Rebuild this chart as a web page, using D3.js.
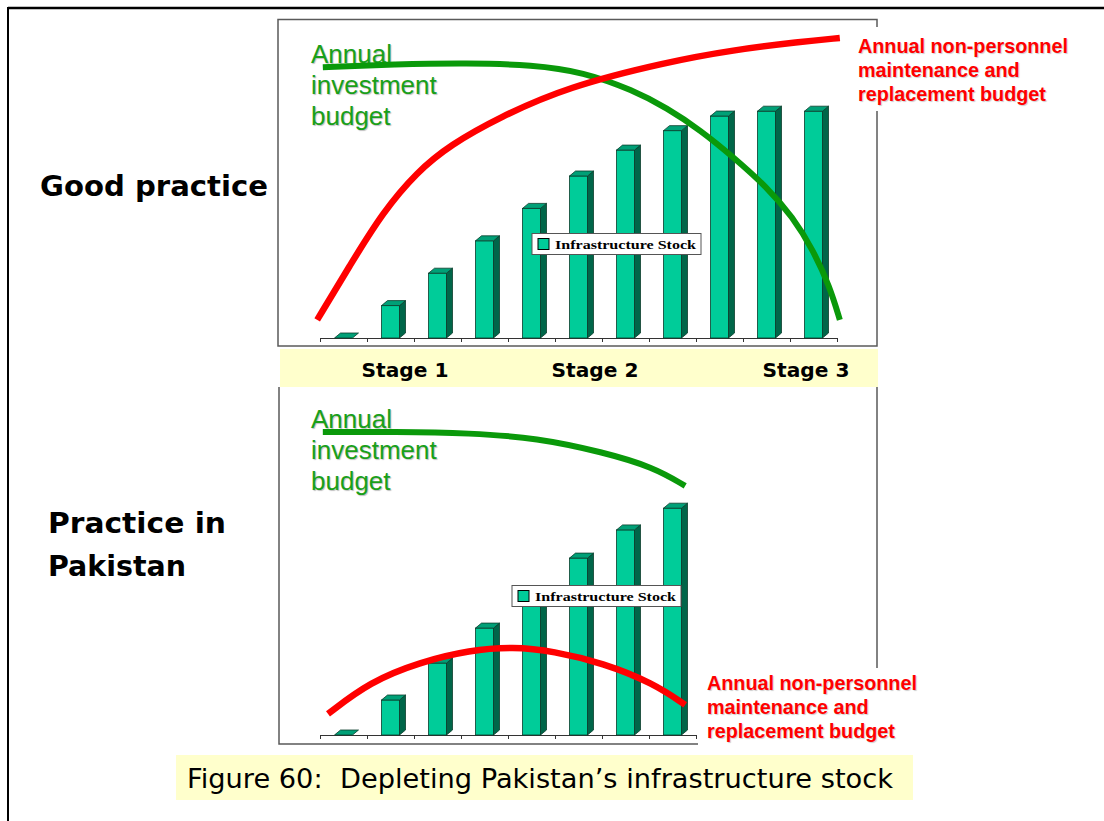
<!DOCTYPE html>
<html>
<head>
<meta charset="utf-8">
<script src="https://cdn.jsdelivr.net/npm/d3@7"></script>
<style>
  body { margin: 0; background: #fff; }
  svg { display: block; }
</style>
</head>
<body>
<svg id="chart" width="1104" height="821"></svg>
<script>
// infrastructure stock, one bar per period
var goodStock = [0, 1, 2, 3, 4, 5, 5.8, 6.4, 6.85, 7.0, 7.0];
var pakStock = [0, 1.08, 2.22, 3.3, 4.32, 5.46, 6.33, 7.0];

// curves as [period, value] pairs
var goodInvest = [[0.06, 8.36], [1.6, 8.45], [3.13, 8.49], [4.53, 8.43], [5.6, 8.21], [6.66, 7.65], [7.38, 7.1],
  [8.09, 6.42], [8.79, 5.59], [9.51, 4.66], [10.06, 3.73], [10.49, 2.72], [10.85, 1.57], [11.06, 0.56]];
var goodMaint = [[-0.06, 0.56], [0.64, 2.25], [1.34, 3.89], [2.06, 5.12], [2.77, 5.96], [3.83, 6.82],
  [5.26, 7.75], [7.38, 8.52], [8.79, 8.89], [10.21, 9.14], [11.06, 9.26]];
var pakInvest = [[0.06, 9.35], [1.6, 9.36], [3.19, 9.32], [4.62, 9.17], [6.02, 8.73], [7.09, 8.27], [7.77, 7.69]];
var pakMaint = [[0.17, 0.65], [1.06, 1.64], [2.13, 2.25], [3.19, 2.62], [4.11, 2.72], [4.96, 2.59],
  [6.02, 2.22], [7.09, 1.6], [7.77, 0.93]];

var stageLabels = ["Stage 1", "Stage 2", "Stage 3"];
var legendLabel = "Infrastructure Stock";
var investLabel = ["Annual", "investment", "budget"];
var maintLabel = ["Annual non-personnel", "maintenance and", "replacement budget"];
var caption = "Figure 60:  Depleting Pakistan\u2019s infrastructure stock";

var svg = d3.select("#chart");
var comic = "'Comic Sans MS', 'DejaVu Sans', sans-serif";
var frameCol = "#5a5a5a";

// outer page border
svg.append("line").attr("x1", 8).attr("y1", 8).attr("x2", 1104).attr("y2", 8)
  .attr("stroke", "#000").attr("stroke-width", 2.5);
svg.append("line").attr("x1", 8).attr("y1", 7).attr("x2", 8).attr("y2", 821)
  .attr("stroke", "#000").attr("stroke-width", 2);

function drawPanel(opts) {
  var g = svg.append("g");
  var n = opts.stock.length;
  var step = 47;
  var x = d3.scaleBand().domain(d3.range(n)).range([320, 320 + step * n]).padding(0);
  var xl = d3.scaleLinear().domain([0, n]).range([320, 320 + step * n]);
  var y = d3.scaleLinear().domain([0, 10]).range([opts.base, opts.base - 324]);
  var bw = 18, dx = 6, dy = 5;
  var base = opts.base;

  // axis with ticks on category boundaries
  g.append("g")
    .attr("transform", "translate(0," + base + ")")
    .call(d3.axisBottom(xl).tickValues(d3.range(n + 1)).tickSize(4).tickSizeOuter(0).tickFormat(""))
    .call(function(a) {
      a.selectAll("path, line").attr("stroke", "#333").attr("stroke-width", 1);
    });

  var rows = opts.stock.map(function(v, i) { return { v: v, i: i }; });
  var left = function(d) { return x(d.i) + (x.bandwidth() - bw) / 2; };

  var bars = g.selectAll("g.bar").data(rows).enter().append("g").attr("class", "bar");
  var tall = bars.filter(function(d) { return d.v > 0; });

  tall.append("rect")
    .attr("x", left)
    .attr("y", function(d) { return y(d.v); })
    .attr("width", bw)
    .attr("height", function(d) { return base - y(d.v); })
    .attr("fill", "#00cc99").attr("stroke", "#0b3d2c").attr("stroke-width", 0.8);

  tall.append("path")
    .attr("d", function(d) {
      var l = left(d) + bw, t = y(d.v);
      return "M" + l + "," + t + "L" + (l + dx) + "," + (t - dy) + "L" + (l + dx) + "," + (base - dy) +
        "L" + l + "," + base + "Z";
    })
    .attr("fill", "#006649").attr("stroke", "#0b3d2c").attr("stroke-width", 0.8);

  bars.append("path")
    .attr("d", function(d) {
      var l = left(d), t = y(d.v);
      return "M" + l + "," + t + "L" + (l + dx) + "," + (t - dy) + "L" + (l + bw + dx) + "," + (t - dy) +
        "L" + (l + bw) + "," + t + "Z";
    })
    .attr("fill", "#00a077").attr("stroke", "#0b3d2c").attr("stroke-width", 0.8);

  // legend box
  var lg = g.append("g").attr("transform", "translate(" + opts.legend[0] + "," + opts.legend[1] + ")");
  lg.append("rect").attr("width", 169).attr("height", 21).attr("fill", "#fff")
    .attr("stroke", "#555").attr("stroke-width", 1);
  lg.append("rect").attr("x", 6).attr("y", 5).attr("width", 11).attr("height", 11)
    .attr("fill", "#00cc99").attr("stroke", "#000").attr("stroke-width", 1);
  lg.append("text").attr("x", 23).attr("y", 15.5)
    .attr("font-family", "'Liberation Serif', 'Times New Roman', serif")
    .attr("font-weight", "bold").attr("font-size", 13.5)
    .attr("textLength", 141).attr("lengthAdjust", "spacingAndGlyphs")
    .text(legendLabel);

  // green label, under the curve
  g.selectAll("text.inv").data(investLabel).enter().append("text")
    .attr("class", "inv")
    .attr("x", 311)
    .attr("y", function(d, i) { return opts.invY + i * 31; })
    .attr("font-family", "'Liberation Sans', Arial, sans-serif")
    .attr("font-size", 26)
    .attr("fill", "#19a019")
    .style("text-shadow", "1px 1px 1px rgba(0,0,0,0.25)")
    .text(function(d) { return d; });

  // smooth freehand-looking curves
  var line = d3.line()
    .x(function(d) { return xl(d[0]); })
    .y(function(d) { return y(d[1]); })
    .curve(d3.curveBasis);

  g.append("path").datum(opts.invest).attr("d", line)
    .attr("fill", "none").attr("stroke", "#0a990a").attr("stroke-width", 6);
  g.append("path").datum(opts.maint).attr("d", line)
    .attr("fill", "none").attr("stroke", "#ff0000").attr("stroke-width", 6.5);

  return g;
}

// top panel frame
svg.append("rect").attr("x", 278).attr("y", 19.5).attr("width", 599).attr("height", 326.5)
  .attr("fill", "none").attr("stroke", frameCol).attr("stroke-width", 1.5);

drawPanel({
  stock: goodStock, invest: goodInvest, maint: goodMaint,
  base: 338, legend: [532, 233.5], invY: 63
});

// bottom panel frame
svg.append("path").attr("d", "M279,387V744H877V387")
  .attr("fill", "none").attr("stroke", frameCol).attr("stroke-width", 1.5);

drawPanel({
  stock: pakStock, invest: pakInvest, maint: pakMaint,
  base: 735, legend: [512, 585.5], invY: 428
});

// stage band
svg.append("rect").attr("x", 280).attr("y", 349).attr("width", 598).attr("height", 38).attr("fill", "#ffffcc");
svg.selectAll("text.stage").data(stageLabels).enter().append("text")
  .attr("class", "stage")
  .attr("x", function(d, i) { return [405, 595, 806][i]; })
  .attr("y", 377)
  .attr("text-anchor", "middle")
  .attr("font-family", comic).attr("font-weight", "bold").attr("font-size", 20)
  .attr("textLength", 87).attr("lengthAdjust", "spacingAndGlyphs")
  .text(function(d) { return d; });

// red labels sit on white boxes that hide the frame
function maintText(x, y0, box) {
  svg.append("rect").attr("x", box[0]).attr("y", box[1]).attr("width", box[2]).attr("height", box[3]).attr("fill", "#fff");
  svg.selectAll(null).data(maintLabel).enter().append("text")
    .attr("x", x)
    .attr("y", function(d, i) { return y0 + i * 24; })
    .attr("font-family", "'Liberation Sans', Arial, sans-serif")
    .attr("font-weight", "bold").attr("font-size", 19.8)
    .attr("fill", "#ff0000")
    .style("text-shadow", "1px 1px 1px rgba(0,0,0,0.2)")
    .text(function(d) { return d; });
}
maintText(858, 53, [852, 27, 230, 84]);
maintText(707, 690, [698, 668, 230, 80]);

// row titles
svg.append("text").attr("x", 40).attr("y", 196)
  .attr("font-family", comic).attr("font-weight", "bold").attr("font-size", 28)
  .attr("textLength", 228).attr("lengthAdjust", "spacingAndGlyphs")
  .text("Good practice");
svg.append("text").attr("x", 48).attr("y", 533)
  .attr("font-family", comic).attr("font-weight", "bold").attr("font-size", 28)
  .attr("textLength", 178).attr("lengthAdjust", "spacingAndGlyphs")
  .text("Practice in");
svg.append("text").attr("x", 48).attr("y", 576)
  .attr("font-family", comic).attr("font-weight", "bold").attr("font-size", 28)
  .attr("textLength", 138).attr("lengthAdjust", "spacingAndGlyphs")
  .text("Pakistan");

// caption
svg.append("rect").attr("x", 176).attr("y", 755).attr("width", 737).attr("height", 45).attr("fill", "#ffffcc");
svg.append("text").attr("x", 187).attr("y", 788)
  .attr("font-family", comic).attr("font-size", 26)
  .style("white-space", "pre")
  .attr("textLength", 706).attr("lengthAdjust", "spacingAndGlyphs")
  .text(caption);
</script>
</body>
</html>
